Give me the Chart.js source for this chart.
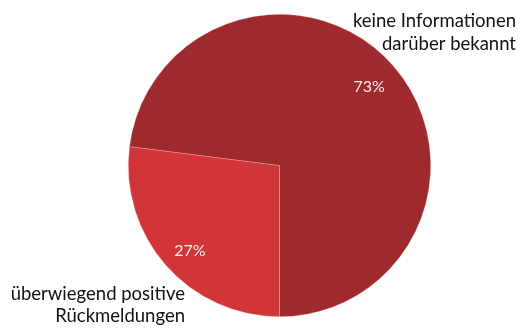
<!DOCTYPE html>
<html>
<head>
<meta charset="utf-8">
<script src="https://cdn.jsdelivr.net/npm/chart.js@4"></script>
<style>
  html, body { margin: 0; padding: 0; background: #fff; }
  #wrap { width: 520px; height: 329px; }
</style>
</head>
<body>
<div id="wrap"><canvas id="pie"></canvas></div>
<script>
// data
const categories = ['überwiegend positive Rückmeldungen', 'keine Informationen darüber bekannt'];
const values = [27, 73];
const sliceColors = ['#d13538', '#9f2a2d'];
const categoryLines = [['überwiegend positive', 'Rückmeldungen'], ['keine Informationen', 'darüber bekannt']];

const FONT = 'Lato, "Open Sans", sans-serif';

const labelPlugin = {
    id: 'labelPlugin',
    afterDatasetsDraw(chart) {
        const ctx = chart.ctx;
        const meta = chart.getDatasetMeta(0);
        const total = values.reduce((a, b) => a + b, 0);
        ctx.save();
        // percentages inside slices
        ctx.font = '16px ' + FONT;
        ctx.fillStyle = '#fbeeee';
        ctx.textAlign = 'center';
        ctx.textBaseline = 'middle';
        meta.data.forEach((arc, i) => {
            const mid = (arc.startAngle + arc.endAngle) / 2;
            const r = arc.outerRadius * 0.79;
            const x = arc.x + Math.cos(mid) * r;
            const y = arc.y + Math.sin(mid) * r + (i === 0 ? 6 : 0);
            ctx.fillText(Math.round(values[i] / total * 100) + '%', x, y);
        });
        // category labels outside
        ctx.font = '18.5px ' + FONT;
        ctx.fillStyle = '#111111';
        ctx.textAlign = 'right';
        ctx.textBaseline = 'alphabetic';
        const w = chart.width, h = chart.height;
        categoryLines[1].forEach((line, k) => ctx.fillText(line, w - 4, 27 + k * 22.5));
        categoryLines[0].forEach((line, k) => ctx.fillText(line, 185, h - 29 + k * 21.5));
        ctx.restore();
    }
};

new Chart(document.getElementById('pie'), {
    type: 'pie',
    data: {
        labels: categories,
        datasets: [{
            data: values,
            backgroundColor: sliceColors,
            borderWidth: 0.6,
            borderColor: 'rgba(255,200,200,0.5)'
        }]
    },
    options: {
        responsive: true,
        maintainAspectRatio: false,
        animation: false,
        rotation: 180,
        layout: { padding: { left: 128, right: 89, top: 14, bottom: 12 } },
        plugins: {
            legend: { display: false },
            tooltip: { enabled: false }
        }
    },
    plugins: [labelPlugin]
});
</script>
</body>
</html>
